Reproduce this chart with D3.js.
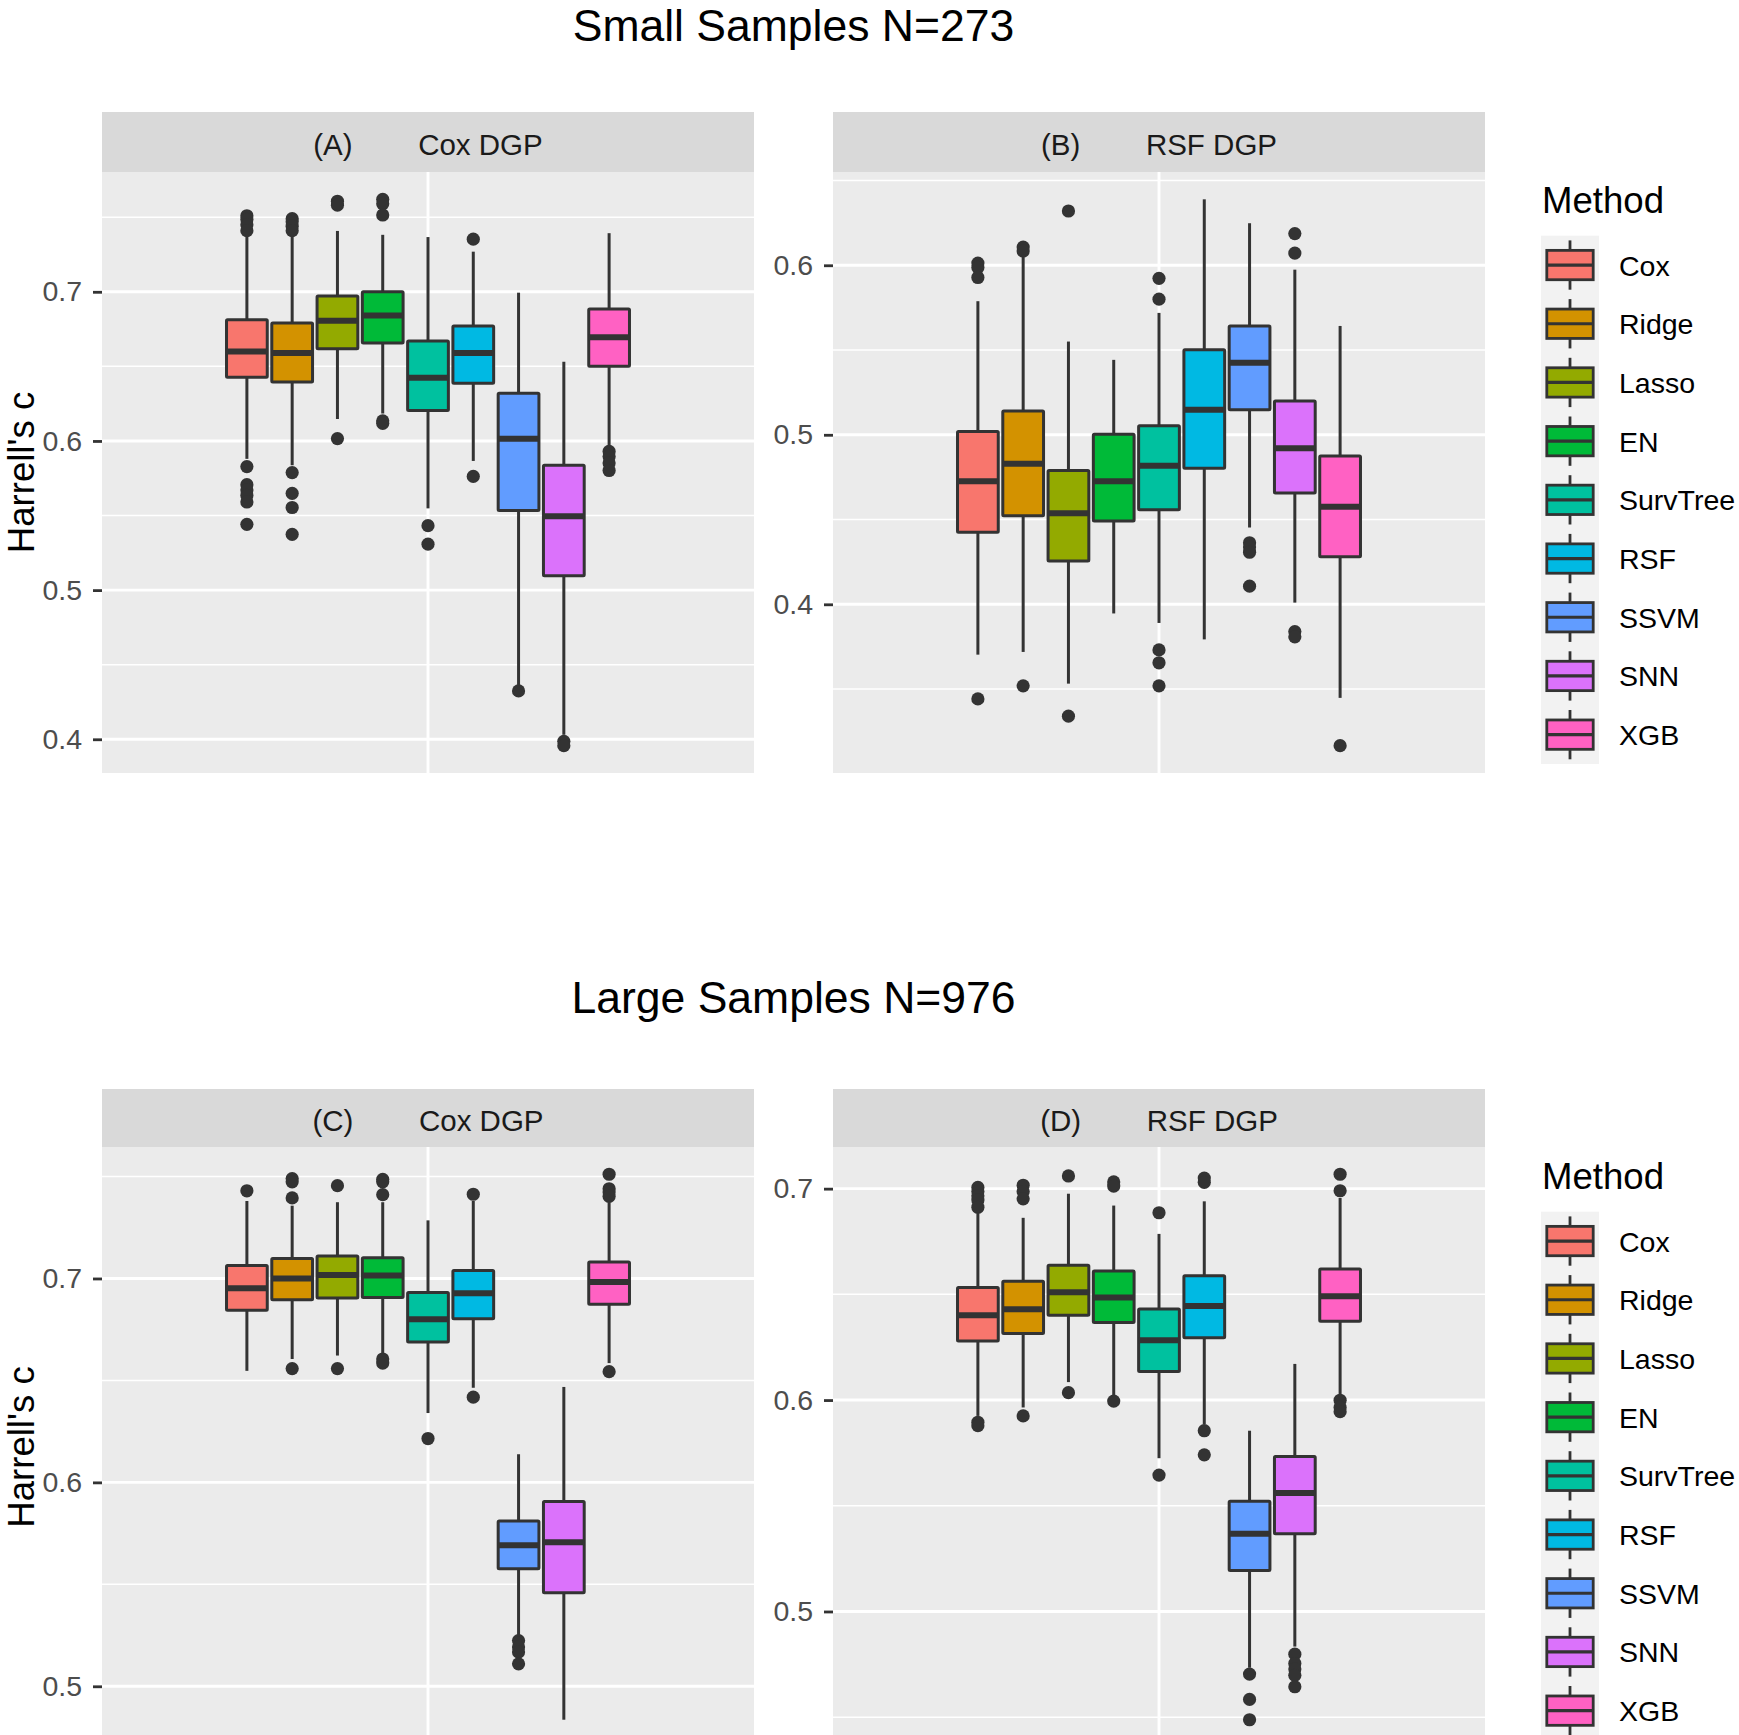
<!DOCTYPE html>
<html>
<head>
<meta charset="utf-8">
<script src="https://cdn.jsdelivr.net/npm/d3@7"></script>
<style>
  body { margin: 0; background: #fff; }
  text { font-family: "Liberation Sans", Arial, sans-serif; }
</style>
</head>
<body>
<div id="chart"></div>
<script>
const methods = ["Cox", "Ridge", "Lasso", "EN", "SurvTree", "RSF", "SSVM", "SNN", "XGB"];
const methodColors = ["#F8766D", "#D39200", "#93AA00", "#00BA38", "#00C19F", "#00B9E3", "#619CFF", "#DB72FB", "#FF61C3"];

// five numbers per method: [lower whisker, Q1, median, Q3, upper whisker]
const statsA = [
  [0.588, 0.6427, 0.660, 0.6812, 0.7385],
  [0.5837, 0.6395, 0.659, 0.679, 0.7385],
  [0.6147, 0.6618, 0.6806, 0.6971, 0.7408],
  [0.6184, 0.6656, 0.6841, 0.700, 0.7382],
  [0.5548, 0.6204, 0.6424, 0.667, 0.7367],
  [0.5866, 0.6387, 0.6589, 0.6771, 0.7269],
  [0.4362, 0.5533, 0.6014, 0.632, 0.6994],
  [0.403, 0.5097, 0.5496, 0.5837, 0.6531],
  [0.5953, 0.65, 0.6696, 0.6884, 0.7393]
];
const outliersA = [
  [0.751, 0.7485, 0.745, 0.741, 0.5828, 0.5707, 0.5672, 0.5635, 0.5591, 0.5441],
  [0.749, 0.747, 0.744, 0.741, 0.5788, 0.5649, 0.5554, 0.5374],
  [0.7607, 0.7581, 0.6016],
  [0.762, 0.759, 0.7515, 0.6135, 0.6118],
  [0.5432, 0.5308],
  [0.7353, 0.5762],
  [0.4324],
  [0.3986, 0.3957],
  [0.593, 0.5895, 0.5852, 0.5802]
];

const statsB = [
  [0.3703, 0.4425, 0.4726, 0.502, 0.5788],
  [0.3719, 0.4522, 0.4829, 0.514, 0.6064],
  [0.3532, 0.4256, 0.4537, 0.479, 0.555],
  [0.3946, 0.4491, 0.4726, 0.5003, 0.5442],
  [0.389, 0.4558, 0.4818, 0.5054, 0.5719],
  [0.3793, 0.4803, 0.5148, 0.5501, 0.6389],
  [0.4453, 0.5148, 0.5425, 0.5642, 0.6248],
  [0.401, 0.4657, 0.4921, 0.52, 0.5974],
  [0.3448, 0.4281, 0.4575, 0.4875, 0.5642]
];
const outliersB = [
  [0.6013, 0.5987, 0.5928, 0.3442],
  [0.6107, 0.6084, 0.3519],
  [0.632, 0.334],
  [],
  [0.5923, 0.58, 0.3731, 0.3655, 0.3519],
  [],
  [0.4363, 0.4338, 0.4307, 0.4107],
  [0.6187, 0.6072, 0.3839, 0.3808],
  [0.3166]
];

const statsC = [
  [0.6547, 0.6844, 0.6952, 0.7064, 0.738],
  [0.6605, 0.6896, 0.700, 0.7098, 0.7357],
  [0.6622, 0.6904, 0.7017, 0.711, 0.7374],
  [0.663, 0.6907, 0.7015, 0.7102, 0.7374],
  [0.634, 0.6688, 0.68, 0.6931, 0.7285],
  [0.6464, 0.6803, 0.6927, 0.7039, 0.738],
  [0.5245, 0.5577, 0.5692, 0.581, 0.6138],
  [0.4836, 0.5459, 0.5706, 0.5906, 0.6468],
  [0.6585, 0.6873, 0.6983, 0.7081, 0.7374]
];
const outliersC = [
  [0.743],
  [0.749, 0.7474, 0.7395, 0.6558],
  [0.7455, 0.6558],
  [0.7486, 0.7474, 0.7411, 0.6605, 0.6585],
  [0.6215],
  [0.7413, 0.6418],
  [0.5224, 0.5193, 0.5168, 0.511],
  [],
  [0.7511, 0.744, 0.7424, 0.7403, 0.6543]
];

const statsD = [
  [0.5925, 0.6279, 0.6401, 0.6532, 0.6886],
  [0.5965, 0.6315, 0.6429, 0.6562, 0.6862],
  [0.6085, 0.6401, 0.651, 0.6638, 0.6976],
  [0.6015, 0.6367, 0.6485, 0.661, 0.692],
  [0.5725, 0.6135, 0.6283, 0.6431, 0.6786],
  [0.5885, 0.6295, 0.6445, 0.6588, 0.694],
  [0.4734, 0.5194, 0.5368, 0.5521, 0.5855],
  [0.4834, 0.5368, 0.5561, 0.5733, 0.6171],
  [0.6005, 0.6373, 0.6491, 0.662, 0.6956]
];
const outliersD = [
  [0.7006, 0.6986, 0.6966, 0.6946, 0.6912, 0.5895, 0.5879],
  [0.7016, 0.6986, 0.6952, 0.5925],
  [0.706, 0.6035],
  [0.7032, 0.7012, 0.5995],
  [0.6886, 0.5645],
  [0.705, 0.703, 0.5855, 0.5741],
  [0.4704, 0.4584, 0.4488],
  [0.4798, 0.4754, 0.4728, 0.4698, 0.4644],
  [0.7068, 0.699, 0.5999, 0.5965, 0.5945]
];

const rowTitles = ["Small Samples N=273", "Large Samples N=976"];
const stripTags = ["(A)", "(B)", "(C)", "(D)"];
const stripNames = ["Cox DGP", "RSF DGP", "Cox DGP", "RSF DGP"];
const yTitle = "Harrell's c";
const legendTitle = "Method";

// layout
const width = 1739, height = 1735;
const colX = [102, 833];
const panelW = 652;
const rows = [
  { titleY: 41, stripTop: 112, top: 172, bottom: 773, legendY: 213 },
  { titleY: 1013, stripTop: 1089, top: 1147, bottom: 1747, legendY: 1189 }
];
const ink = "#333333";

const panels = [
  { stats: statsA, outliers: outliersA, row: 0, col: 0 },
  { stats: statsB, outliers: outliersB, row: 0, col: 1 },
  { stats: statsC, outliers: outliersC, row: 1, col: 0 },
  { stats: statsD, outliers: outliersD, row: 1, col: 1 }
];

const color = d3.scaleOrdinal().domain(methods).range(methodColors);

const svg = d3.select("#chart")
  .append("svg")
  .attr("width", width)
  .attr("height", height)
  .attr("viewBox", [0, 0, width, height]);

svg.append("rect").attr("width", width).attr("height", height).attr("fill", "#fff");

rows.forEach((r, i) => {
  svg.append("text")
    .attr("x", 793.5)
    .attr("y", r.titleY)
    .attr("text-anchor", "middle")
    .style("font-size", "44.5px")
    .attr("fill", "#000")
    .text(rowTitles[i]);
});

panels.forEach((p, i) => drawPanel(p, i));
rows.forEach(r => drawLegend(r.legendY));

function drawPanel(p, idx) {
  const r = rows[p.row];
  const x0 = colX[p.col];
  const h = r.bottom - r.top;

  // y range like ggplot: data range plus 5% on each side
  const all = p.stats.flat().concat(p.outliers.flat());
  const lo = d3.min(all), hi = d3.max(all);
  const pad = (hi - lo) * 0.05;
  const y = d3.scaleLinear().domain([lo - pad, hi + pad]).range([h, 0]);

  const major = y.ticks(4);
  const minor = major.map(d => d - 0.05).concat([major[major.length - 1] + 0.05])
    .filter(d => d > y.domain()[0] && d < y.domain()[1]);

  const g = svg.append("g").attr("transform", `translate(${x0},${r.top})`);

  // strip
  g.append("rect")
    .attr("x", 0).attr("y", r.stripTop - r.top)
    .attr("width", panelW).attr("height", r.top - r.stripTop)
    .attr("fill", "#d9d9d9");
  g.append("text")
    .attr("x", panelW / 2)
    .attr("y", (r.stripTop - r.top) / 2 + 2.5)
    .attr("dy", "0.36em")
    .attr("text-anchor", "middle")
    .style("font-size", "29.5px")
    .attr("fill", "#1a1a1a")
    .text(stripTags[idx] + "\u00A0".repeat(8) + stripNames[idx]);

  g.append("rect").attr("width", panelW).attr("height", h).attr("fill", "#ebebeb");

  g.selectAll(".minor").data(minor).join("line")
    .attr("x1", 0).attr("x2", panelW)
    .attr("y1", d => y(d)).attr("y2", d => y(d))
    .attr("stroke", "#fff").attr("stroke-width", 1.5);

  g.selectAll(".major").data(major).join("line")
    .attr("x1", 0).attr("x2", panelW)
    .attr("y1", d => y(d)).attr("y2", d => y(d))
    .attr("stroke", "#fff").attr("stroke-width", 2.9);

  // single discrete x position in the middle, expanded by 0.6 on each side
  const unit = panelW / 1.2;
  const cx = panelW / 2;
  g.append("line")
    .attr("x1", cx).attr("x2", cx).attr("y1", 0).attr("y2", h)
    .attr("stroke", "#fff").attr("stroke-width", 2.9);

  const slot = d3.scaleBand()
    .domain(methods)
    .range([cx - 0.375 * unit, cx + 0.375 * unit])
    .paddingInner(0.1)
    .paddingOuter(0.05);
  const bw = slot.bandwidth();

  // y axis
  const axis = g.append("g")
    .call(d3.axisLeft(y).tickValues(major).tickSize(9).tickPadding(11).tickFormat(d3.format(".1f")));
  axis.select(".domain").remove();
  axis.selectAll(".tick line").attr("stroke", ink).attr("stroke-width", 2.8);
  axis.selectAll(".tick text")
    .attr("fill", "#4d4d4d")
    .style("font-size", "28.5px")
    .style("font-family", "'Liberation Sans', Arial, sans-serif");

  if (p.col === 0) {
    svg.append("text")
      .attr("transform", `translate(34,${r.top + h / 2}) rotate(-90)`)
      .attr("text-anchor", "middle")
      .style("font-size", "36.6px")
      .attr("fill", "#000")
      .text(yTitle);
  }

  const boxes = g.selectAll(".box")
    .data(methods.map((m, i) => ({ m, s: p.stats[i], out: p.outliers[i] })))
    .join("g")
    .attr("class", "box");

  boxes.selectAll("circle")
    .data(d => d.out.map(v => ({ m: d.m, v })))
    .join("circle")
    .attr("cx", d => slot(d.m) + bw / 2)
    .attr("cy", d => y(d.v))
    .attr("r", 6.6)
    .attr("fill", ink);

  boxes.append("line")
    .attr("x1", d => slot(d.m) + bw / 2).attr("x2", d => slot(d.m) + bw / 2)
    .attr("y1", d => y(d.s[4])).attr("y2", d => y(d.s[3]))
    .attr("stroke", ink).attr("stroke-width", 3);
  boxes.append("line")
    .attr("x1", d => slot(d.m) + bw / 2).attr("x2", d => slot(d.m) + bw / 2)
    .attr("y1", d => y(d.s[1])).attr("y2", d => y(d.s[0]))
    .attr("stroke", ink).attr("stroke-width", 3);

  boxes.append("rect")
    .attr("x", d => slot(d.m))
    .attr("y", d => y(d.s[3]))
    .attr("width", bw)
    .attr("height", d => y(d.s[1]) - y(d.s[3]))
    .attr("rx", 1)
    .attr("fill", d => color(d.m))
    .attr("stroke", ink)
    .attr("stroke-width", 3);

  boxes.append("line")
    .attr("x1", d => slot(d.m)).attr("x2", d => slot(d.m) + bw)
    .attr("y1", d => y(d.s[2])).attr("y2", d => y(d.s[2]))
    .attr("stroke", ink).attr("stroke-width", 6);
}

function drawLegend(titleY) {
  const kx = 1541, kw = 58, kh = 58.7;
  const top = titleY + 22.7;
  const lg = svg.append("g");

  lg.append("text")
    .attr("x", 1542).attr("y", titleY)
    .style("font-size", "36.6px")
    .attr("fill", "#000")
    .text(legendTitle);

  lg.append("rect")
    .attr("x", kx).attr("y", top)
    .attr("width", kw).attr("height", kh * methods.length)
    .attr("fill", "#f2f2f2");

  const keys = lg.selectAll(".key").data(methods).join("g")
    .attr("transform", (d, i) => `translate(${kx},${top + i * kh})`);

  keys.append("line")
    .attr("x1", kw / 2).attr("x2", kw / 2)
    .attr("y1", kh * 0.08).attr("y2", kh * 0.92)
    .attr("stroke", ink).attr("stroke-width", 2.8);
  keys.append("rect")
    .attr("x", kw * 0.1).attr("y", kh * 0.25)
    .attr("width", kw * 0.8).attr("height", kh * 0.5)
    .attr("fill", d => color(d))
    .attr("stroke", ink).attr("stroke-width", 2.8);
  keys.append("line")
    .attr("x1", kw * 0.1).attr("x2", kw * 0.9)
    .attr("y1", kh / 2).attr("y2", kh / 2)
    .attr("stroke", ink).attr("stroke-width", 3.2);
  keys.append("text")
    .attr("x", 1619 - kx)
    .attr("y", kh / 2 + 10.5)
    .style("font-size", "28.5px")
    .attr("fill", "#000")
    .text(d => d);
}
</script>
</body>
</html>
